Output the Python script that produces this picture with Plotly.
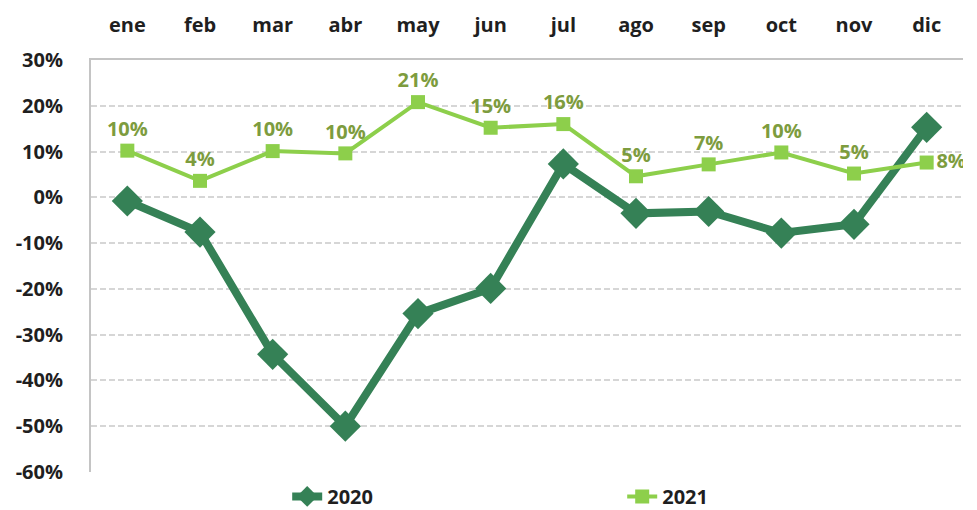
import plotly.graph_objects as go

months = ["ene", "feb", "mar", "abr", "may", "jun", "jul", "ago", "sep", "oct", "nov", "dic"]
y2020 = [-0.008, -0.076, -0.343, -0.500, -0.254, -0.199, 0.073, -0.035, -0.031, -0.078, -0.059, 0.153]
y2021 = [0.102, 0.036, 0.101, 0.096, 0.208, 0.152, 0.160, 0.046, 0.072, 0.098, 0.052, 0.076]
label_pos_2021 = ["top center"] * 11 + ["middle right"]

tick_vals = [0.3, 0.2, 0.1, 0.0, -0.1, -0.2, -0.3, -0.4, -0.5, -0.6]
tick_text = ["30%", "20%", "10%", "0%", "-10%", "-20%", "-30%", "-40%", "-50%", "-60%"]

DARK = "#358156"
LIGHT = "#8dcf4b"
LABEL = "#7d9c3e"
INK = "#1f1f1f"
FONT = "Open Sans"
FS = 20

fig = go.Figure()
fig.add_trace(go.Scatter(
    x=months, y=y2020, name="2020", mode="lines+markers",
    line=dict(color=DARK, width=8),
    marker=dict(symbol="diamond", size=24, color=DARK),
))
fig.add_trace(go.Scatter(
    x=months, y=y2021, name="2021", mode="lines+markers+text",
    line=dict(color=LIGHT, width=4),
    marker=dict(symbol="square", size=14, color=LIGHT),
    text=y2021, texttemplate="%{text:.0%}", textposition=label_pos_2021,
    textfont=dict(family=FONT, size=FS, color=LABEL, weight="bold"),
))

fig.update_layout(
    width=977, height=510,
    margin=dict(l=91, r=14, t=60, b=38, autoexpand=False),
    paper_bgcolor="white", plot_bgcolor="white",
    font=dict(family=FONT, size=FS, color=INK),
    showlegend=True,
    legend=dict(
        orientation="h", x=0.225, xanchor="left", y=-0.012, yanchor="top",
        entrywidth=290, entrywidthmode="pixels",
        font=dict(family=FONT, size=FS, color=INK, weight="bold"),
        bgcolor="rgba(0,0,0,0)",
    ),
    xaxis=dict(
        type="category", side="top", range=[-0.5, 11.5], automargin=False,
        showgrid=False, showline=True, linecolor="#c4c4c4", linewidth=2,
        ticks="outside", ticklen=18, tickcolor="rgba(0,0,0,0)",
        tickfont=dict(family=FONT, size=FS, color=INK, weight="bold"),
    ),
    yaxis=dict(
        range=[-0.6, 0.3], tickvals=tick_vals, ticktext=tick_text, automargin=False,
        showgrid=True, gridcolor="#d6d6d6", griddash="6px,3px", gridwidth=1.5,
        zeroline=False, showline=True, linecolor="#c4c4c4", linewidth=2,
        ticks="outside", ticklen=22, tickcolor="rgba(0,0,0,0)",
        tickfont=dict(family=FONT, size=FS, color=INK, weight="bold"),
    ),
)

fig.write_html("out.html")
